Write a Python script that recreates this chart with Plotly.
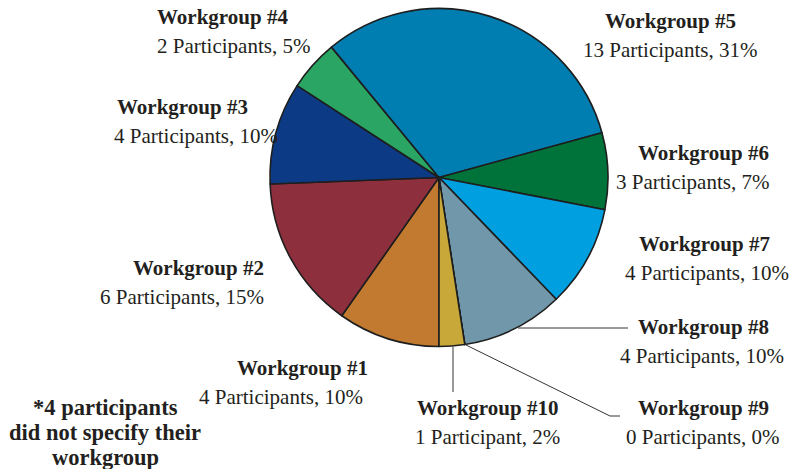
import plotly.graph_objects as go

groups = ["Workgroup #1", "Workgroup #2", "Workgroup #3", "Workgroup #4", "Workgroup #5",
          "Workgroup #6", "Workgroup #7", "Workgroup #8", "Workgroup #9", "Workgroup #10"]
participants = [4, 6, 4, 2, 13, 3, 4, 4, 0, 1]
percent_labels = ["4 Participants, 10%", "6 Participants, 15%", "4 Participants, 10%",
                  "2 Participants, 5%", "13 Participants, 31%", "3 Participants, 7%",
                  "4 Participants, 10%", "4 Participants, 10%", "0 Participants, 0%",
                  "1 Participant, 2%"]
colors = ["#C17A30", "#8E2F3D", "#0D3A84", "#2AA563", "#007DB1",
          "#00733B", "#009FE0", "#7197AA", "#9A9A9A", "#C8A838"]
note_lines = ["*4 participants", "did not specify their", "workgroup"]

W, H = 791, 469
FONT = "Liberation Serif"
TXT = "#231F20"

fig = go.Figure(go.Pie(
    labels=groups, values=participants, sort=False, direction="clockwise",
    rotation=180, textinfo="none", showlegend=False,
    marker=dict(colors=colors, line=dict(color="#1E1E1E", width=1.6)),
    domain=dict(x=[270 / W, 608 / W], y=[1 - 347 / H, 1 - 8 / H]),
))

# label placement (pixel positions): (x line1, x line2, y line1, xanchor)
pos = [
    (370, 365, 368, "right"),
    (266, 266, 268, "right"),
    (115, 112, 107, "left"),
    (155, 155, 17, "left"),
    (670, 670, 21, "center"),
    (771, 771, 153, "right"),
    (704, 707, 244, "center"),
    (703, 702, 327, "center"),
    (703, 702, 408, "center"),
    (487, 487, 408, "center"),
]

ann = []
for g, p, (x1, x2, y, xa) in zip(groups, percent_labels, pos):
    ann.append(dict(x=x1 / W, y=1 - y / H, xref="paper", yref="paper", xanchor=xa,
                    yanchor="middle", showarrow=False, text=f"<b>{g}</b>",
                    font=dict(family=FONT, size=21, color=TXT)))
    ann.append(dict(x=x2 / W, y=1 - (y + 29) / H, xref="paper", yref="paper", xanchor=xa,
                    yanchor="middle", showarrow=False, text=p,
                    font=dict(family=FONT, size=21, color=TXT)))
for i, t in enumerate(note_lines):
    ann.append(dict(x=105 / W, y=1 - (407 + 25 * i) / H, xref="paper", yref="paper",
                    xanchor="center", yanchor="middle", showarrow=False, text=f"<b>{t}</b>",
                    font=dict(family=FONT, size=22.5, color=TXT)))

line = dict(color="#333333", width=1)
shapes = [
    dict(type="line", xref="paper", yref="paper", x0=518 / W, y0=1 - 328 / H, x1=628 / W, y1=1 - 328 / H, line=line),
    dict(type="path", xref="paper", yref="paper",
         path=f"M {466 / W},{1 - 345 / H} L {610 / W},{1 - 416 / H} L {620 / W},{1 - 416 / H}", line=line),
    dict(type="line", xref="paper", yref="paper", x0=453 / W, y0=1 - 347 / H, x1=453 / W, y1=1 - 392 / H, line=line),
]

fig.update_layout(width=W, height=H, margin=dict(l=0, r=0, t=0, b=0),
                  paper_bgcolor="white", plot_bgcolor="white",
                  annotations=ann, shapes=shapes)
fig.write_html("out.html", config={"displayModeBar": False},
               post_script="document.body.style.margin='0';")
